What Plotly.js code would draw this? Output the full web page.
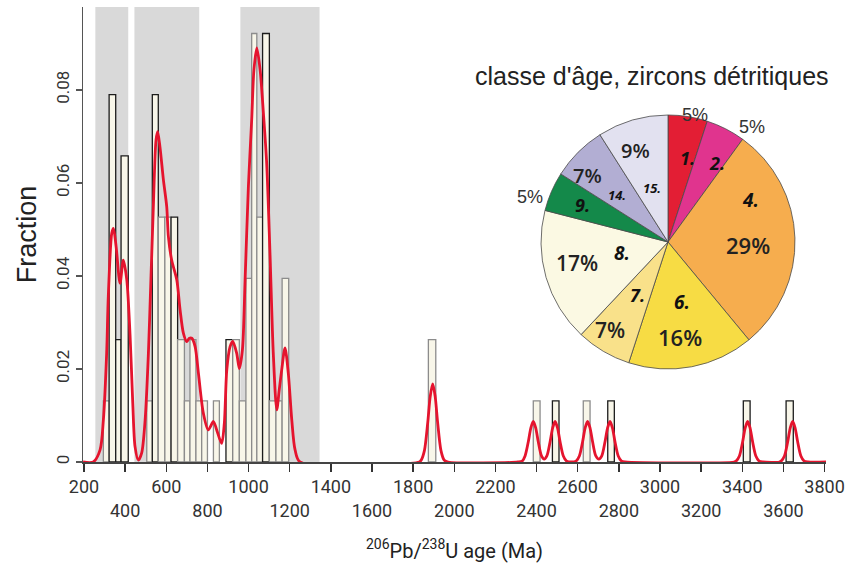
<!DOCTYPE html>
<html>
<head>
<meta charset="utf-8">
<script src="https://cdn.plot.ly/plotly-3.0.1.min.js"></script>
<style>html,body{margin:0;padding:0;background:#fff;}#chart{width:866px;height:569px;}</style>
</head>
<body>
<div id="chart"></div>
<script>
// ---------------- DATA ----------------
const N_GRAINS = 76;
// histogram bins (Ma) and grain counts
const binStart = [294, 322, 354, 380, 505, 532, 561, 593, 623, 655, 688, 715, 744, 772, 829, 890, 923, 955, 987, 1015, 1040, 1068, 1101, 1133, 1163, 1874, 2384, 2477, 2627, 2746, 3405, 3613];
const binEnd   = [322, 354, 380, 415, 532, 561, 593, 623, 655, 688, 715, 744, 772, 800, 858, 923, 955, 987, 1015, 1040, 1068, 1101, 1133, 1163, 1195, 1910, 2417, 2509, 2660, 2778, 3438, 3648];
const binCount = [1, 6, 2, 5, 1, 6, 4, 4, 4, 2, 1, 2, 1, 1, 1, 2, 2, 1, 3, 7, 4, 7, 1, 1, 3, 2, 1, 1, 1, 1, 1, 1];
const binDark  = [0, 1, 1, 1, 0, 1, 0, 0, 1, 0, 0, 0, 0, 0, 0, 1, 0, 0, 0, 0, 0, 1, 0, 0, 0, 0, 0, 1, 0, 1, 1, 1];

// probability density curve (age Ma, fraction)
const pdfAge = [195, 245, 278, 294, 310, 318, 335, 343, 356, 375, 391, 408, 424, 437, 448, 464, 480, 497, 513, 524, 537, 550, 558, 569, 586, 602, 610, 626, 651, 667, 683, 699, 712, 724, 740, 756, 780, 804, 829, 845, 869, 882, 894, 910, 923, 942, 955, 970, 983, 999, 1015, 1026, 1040, 1056, 1072, 1088, 1104, 1120, 1137, 1149, 1161, 1177, 1193, 1210, 1226, 1250,
  1830, 1839, 1855, 1871, 1883, 1895, 1907, 1919, 1935, 1951, 1970,
  2310, 2330, 2344, 2360, 2372, 2384, 2396, 2408, 2424, 2437, 2450, 2466, 2478, 2490, 2502, 2514, 2530, 2546, 2570,
  2592, 2608, 2624, 2636, 2648, 2660, 2672, 2688, 2703, 2717, 2733, 2745, 2757, 2769, 2781, 2797, 2813, 2830,
  3360, 3370, 3386, 3402, 3414, 3426, 3438, 3450, 3466, 3482, 3500,
  3580, 3589, 3605, 3621, 3633, 3645, 3657, 3669, 3685, 3701, 3720, 3807];
const pdfFrac = [0, 0, 0.0026, 0.009, 0.0234, 0.0356, 0.0492, 0.0502, 0.0463, 0.0384, 0.0434, 0.0391, 0.027, 0.0126, 0.0033, 0.0004, 0.0019, 0.009, 0.0234, 0.0377, 0.0549, 0.0692, 0.071, 0.0678, 0.0606, 0.0549, 0.0485, 0.0434, 0.0391, 0.0327, 0.0277, 0.0259, 0.0266, 0.0266, 0.0248, 0.0191, 0.0105, 0.0069, 0.0087, 0.0069, 0.004, 0.0083, 0.0198, 0.0248, 0.0259, 0.0234, 0.0201, 0.0241, 0.0391, 0.0592, 0.0735, 0.0843, 0.089, 0.0843, 0.075, 0.0642, 0.0449, 0.0234, 0.0112, 0.0155, 0.0198, 0.0245, 0.0191, 0.009, 0.0026, 0,
  0, 0.0004, 0.0025, 0.0085, 0.0141, 0.0168, 0.0141, 0.0085, 0.0025, 0.0004, 0,
  0, 0.0002, 0.0013, 0.0044, 0.0073, 0.0087, 0.0073, 0.0044, 0.0013, 0.0006, 0.0013, 0.0044, 0.0073, 0.0087, 0.0073, 0.0044, 0.0013, 0.0002, 0,
  0.0002, 0.0013, 0.0044, 0.0073, 0.0087, 0.0073, 0.0044, 0.0013, 0.0006, 0.0013, 0.0044, 0.0073, 0.0087, 0.0073, 0.0044, 0.0013, 0.0002, 0,
  0, 0.0002, 0.0013, 0.0044, 0.0073, 0.0087, 0.0073, 0.0044, 0.0013, 0.0002, 0,
  0, 0.0002, 0.0013, 0.0044, 0.0073, 0.0087, 0.0073, 0.0044, 0.0013, 0.0002, 0, 0];

// highlighted age windows (Ma)
const bandStart = [255, 445, 960];
const bandEnd   = [415, 760, 1345];

// axis ticks
const xTickVals = [200, 400, 600, 800, 1000, 1200, 1400, 1600, 1800, 2000, 2200, 2400, 2600, 2800, 3000, 3200, 3400, 3600, 3800];
const yTickVals = [0, 0.02, 0.04, 0.06, 0.08];
const yTickText = ['0', '0.02', '0.04', '0.06', '0.08'];

// pie: age classes of detrital zircons
const pieTitle = "classe d'âge, zircons détritiques";
const pieClass = ['1.', '2.', '4.', '6.', '7.', '8.', '9.', '14.', '15.'];
const pieValue = [5, 5, 29, 16, 7, 17, 5, 7, 9];
const pieColor = ['#e31e34', '#e0348e', '#f6ad4e', '#f7dc44', '#f9e18a', '#fbf9e3', '#14894a', '#b2aed3', '#e2e1f0'];

// ---------------- LAYOUT CONSTANTS ----------------
const W = 866, H = 569;
const M = {l: 83, r: 40, t: 7, b: 107};
const PW = W - M.l - M.r, PH = H - M.t - M.b;
const px2x = p => (p - M.l) / PW;
const px2y = p => 1 - (p - M.t) / PH;

// label placements in pixels (per slice): class label & percent label
const numPos = [[687,158],[717,163],[750,200],[682,302],[637,295],[622,253],[582,205],[617,195],[652,188]];
const numSize = [18,18,19,19,18,19,18,13,13];
const pctPos = [[695,115],[752,127],[748,245],[680,337],[610,330],[577,263],[530,197],[587,175],[635,150]];
const pctSize = [18,18,22,22,21,21,18,20,20];
const pctOutside = [1,1,0,0,0,0,1,0,0];

// ---------------- TRACES ----------------
const barTrace = {
  type: 'bar',
  x: binStart.map((s, i) => (s + binEnd[i]) / 2),
  y: binCount.map(c => c / N_GRAINS),
  width: binStart.map((s, i) => binEnd[i] - s),
  marker: {color: '#f8f6e9', line: {color: binDark.map(d => d ? '#1c1c1c' : '#8c8c8c'), width: 1.3}},
  hoverinfo: 'skip', showlegend: false
};
const pdfTrace = {
  type: 'scatter', mode: 'lines',
  x: pdfAge, y: pdfFrac,
  line: {color: '#e5142e', width: 2.8, shape: 'spline', smoothing: 0.8},
  hoverinfo: 'skip', showlegend: false
};
const pieTrace = {
  type: 'pie',
  values: pieValue, labels: pieClass,
  marker: {colors: pieColor, line: {color: '#4a4a4a', width: 0.8}},
  sort: false, direction: 'clockwise', rotation: 0,
  textinfo: 'none', hoverinfo: 'skip', showlegend: false,
  domain: {x: [px2x(668 - 127), px2x(668 + 127)], y: [px2y(369), px2y(115)]}
};

// ---------------- ANNOTATIONS ----------------
const ann = [];
ann.push({xref: 'paper', yref: 'paper', x: px2x(652), y: px2y(76), text: pieTitle, showarrow: false,
  xanchor: 'center', yanchor: 'middle', font: {family: 'Liberation Sans, Arial, sans-serif', size: 25, color: '#222'}});
pieClass.forEach((c, i) => {
  ann.push({xref: 'paper', yref: 'paper', x: px2x(numPos[i][0]), y: px2y(numPos[i][1]),
    text: '<b><i>' + c + '</i></b>', showarrow: false, xanchor: 'center', yanchor: 'middle',
    font: {family: 'Open Sans, sans-serif', size: numSize[i], color: '#111'}});
  ann.push({xref: 'paper', yref: 'paper', x: px2x(pctPos[i][0]), y: px2y(pctPos[i][1]),
    text: pieValue[i] + '%', showarrow: false, xanchor: 'center', yanchor: 'middle',
    font: pctOutside[i]
      ? {family: 'Liberation Sans, Arial, sans-serif', size: pctSize[i], color: '#333'}
      : {family: 'Open Sans, sans-serif', size: pctSize[i], color: '#222', weight: 600}});
});

// ---------------- LAYOUT ----------------
const shapes = bandStart.map((s, i) => ({
  type: 'rect', xref: 'x', yref: 'paper', x0: s, x1: bandEnd[i], y0: 0, y1: 1,
  fillcolor: '#d9d9d9', line: {width: 0}, layer: 'below'
}));

const tickFont = {family: 'Roboto, sans-serif', size: 18, color: '#333'};
const layout = {
  width: W, height: H,
  margin: M,
  paper_bgcolor: '#fff', plot_bgcolor: '#fff',
  bargap: 0,
  showlegend: false,
  xaxis: {
    range: [195, 3807], showgrid: false, zeroline: false,
    showline: true, linecolor: '#444', linewidth: 1.5, layer: 'below traces',
    ticks: 'outside', ticklen: 8, tickwidth: 1.5, tickcolor: '#333',
    tickmode: 'array', tickvals: xTickVals,
    ticktext: xTickVals.map((v, i) => i % 2 === 0 ? String(v) : '<br>' + v),
    tickfont: tickFont, tickangle: 0,
    title: {text: '<sup>206</sup>Pb/<sup>238</sup>U age (Ma)', font: {family: 'Roboto, sans-serif', size: 20, color: '#222'}, standoff: 24}
  },
  yaxis: {
    range: [0, 0.0978], showgrid: false, zeroline: false,
    showline: true, linecolor: '#555', linewidth: 1.5,
    ticks: 'outside', ticklen: 6, tickwidth: 1.5, tickcolor: '#555',
    tickmode: 'array', tickvals: yTickVals, ticktext: yTickText,
    tickfont: {family: 'Roboto, sans-serif', size: 17, color: '#333'}, tickangle: -90,
    title: {text: 'Fraction', font: {family: 'Liberation Sans, Arial, sans-serif', size: 27, color: '#222'}, standoff: 8}
  },
  shapes: shapes,
  annotations: ann
};

Plotly.newPlot('chart', [barTrace, pdfTrace, pieTrace], layout, {staticPlot: true, displayModeBar: false});
</script>
</body>
</html>
